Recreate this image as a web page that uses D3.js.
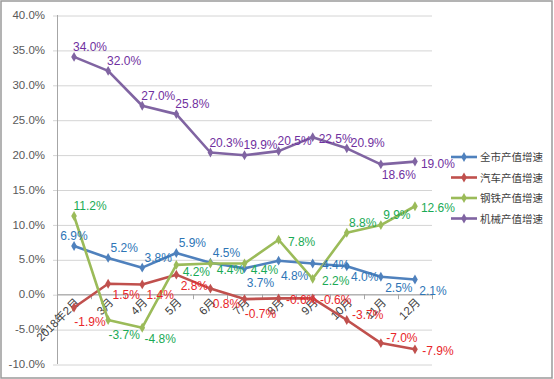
<!DOCTYPE html>
<html>
<head>
<meta charset="utf-8">
<script src="https://cdn.jsdelivr.net/npm/d3@7/dist/d3.min.js"></script>
<style>
  body { margin: 0; background: #fff; }
  text { font-family: "Liberation Sans", "Noto Sans CJK SC", sans-serif; }
</style>
</head>
<body>
<script>
// months on the category axis
var months = ["2018年2月", "3月", "4月", "5月", "6月", "7月", "8月", "9月", "10月", "11月", "12月"];
var yTicks = [-10, -5, 0, 5, 10, 15, 20, 25, 30, 35, 40];

// growth rates in percent
var cityGrowth = [6.9, 5.2, 3.8, 5.9, 4.5, 3.7, 4.8, 4.4, 4.0, 2.5, 2.1];
var autoGrowth = [-1.9, 1.5, 1.4, 2.8, 0.8, -0.7, -0.6, -0.6, -3.7, -7.0, -7.9];
var steelGrowth = [11.2, -3.7, -4.8, 4.2, 4.4, 4.4, 7.8, 2.2, 8.8, 9.9, 12.6];
var machGrowth = [34.0, 32.0, 27.0, 25.8, 20.3, 19.9, 20.5, 22.5, 20.9, 18.6, 19.0];

var seriesNames = ["全市产值增速", "汽车产值增速", "钢铁产值增速", "机械产值增速"];

// where each data label sits relative to its point (the excel labels were dragged around)
var labelSpots = {
  t: [0, -10], tr: [16, -10], r: [23, 2], rd: [20, 7], ru: [21, -5], br: [18, 11], b: [16, 15]
};
var cityLabelAt = ["t", "tr", "tr", "tr", "tr", "b", "b", "r", "br", "br", "br"];
var autoLabelAt = ["b", "br", "br", "br", "b", "b", "r", "r", "ru", "ru", "r"];
var steelLabelAt = ["tr", "b", "br", "rd", "rd", "rd", "r", "r", "tr", "tr", "r"];
var machLabelAt = ["tr", "tr", "tr", "tr", "tr", "tr", "tr", "r", "ru", "br", "r"];

var W = 554, H = 379;
var svg = d3.select("body").append("svg").attr("width", W).attr("height", H);

// outer chart border
svg.append("rect")
   .attr("x", 1).attr("y", 1).attr("width", 551).attr("height", 377)
   .attr("fill", "#fff").attr("stroke", "#9a9a9a").attr("stroke-width", 1.5);

var x = d3.scalePoint().domain(months).range([57, 432]).padding(0.5);
var y = d3.scaleLinear().domain([-10, 40]).range([364, 15]);

// horizontal gridlines + y labels
var yAxis = d3.axisLeft(y).tickValues(yTicks).tickSize(-(432 - 53)).tickPadding(8)
              .tickFormat(function(d) { return d.toFixed(1) + "%"; });
var gy = svg.append("g").attr("transform", "translate(53,0)").call(yAxis);
gy.select(".domain").remove();
gy.selectAll(".tick line").attr("stroke", "#d4d4d4").attr("transform", "translate(0,0.5)");
gy.selectAll(".tick text").attr("fill", "#595959").style("font-size", "11.5px");

// y axis line
svg.append("line").attr("x1", 57.5).attr("x2", 57.5).attr("y1", y(40)).attr("y2", y(-10))
   .attr("stroke", "#a6a6a6");

// x axis at zero with ticks between categories
var step = x.step();
var bounds = d3.range(months.length + 1).map(function(i) { return 57 + i * step; });
svg.append("line").attr("x1", 57).attr("x2", 432).attr("y1", y(0) + 0.5).attr("y2", y(0) + 0.5)
   .attr("stroke", "#a6a6a6");
svg.selectAll(".xtick").data(bounds).enter().append("line")
   .attr("x1", function(d) { return Math.round(d) + 0.5; })
   .attr("x2", function(d) { return Math.round(d) + 0.5; })
   .attr("y1", y(0)).attr("y2", y(0) + 5)
   .attr("stroke", "#a6a6a6");

svg.selectAll(".xlab").data(months).enter().append("text")
   .attr("text-anchor", "end")
   .attr("transform", function(d) { return "translate(" + (x(d) + 6) + "," + (y(0) + 9) + ") rotate(-45)"; })
   .attr("fill", "#404040")
   .style("font-size", "11.5px")
   .text(function(d) { return d; });

var series = [
  { name: seriesNames[0], values: cityGrowth, line: "#4f81bd", label: "#2e75b6", spots: cityLabelAt },
  { name: seriesNames[1], values: autoGrowth, line: "#c0504d", label: "#e8262a", spots: autoLabelAt },
  { name: seriesNames[2], values: steelGrowth, line: "#9bbb59", label: "#1aaa55", spots: steelLabelAt },
  { name: seriesNames[3], values: machGrowth, line: "#8064a2", label: "#7030a0", spots: machLabelAt }
];

var line = d3.line()
  .x(function(d, i) { return x(months[i]); })
  .y(function(d) { return y(d); });
var diamond = d3.symbol().type(d3.symbolDiamond).size(28);

series.forEach(function(s) {
  var g = svg.append("g");
  g.append("path").attr("d", line(s.values))
   .attr("fill", "none").attr("stroke", s.line).attr("stroke-width", 2.6)
   .attr("stroke-linejoin", "round");
  g.selectAll("path.mk").data(s.values).enter().append("path")
   .attr("class", "mk")
   .attr("d", diamond)
   .attr("transform", function(d, i) { return "translate(" + x(months[i]) + "," + y(d) + ")"; })
   .attr("fill", s.line);
});

// data labels drawn on top of all lines
series.forEach(function(s) {
  svg.append("g").selectAll("text").data(s.values).enter().append("text")
     .attr("x", function(d, i) { return x(months[i]) + labelSpots[s.spots[i]][0]; })
     .attr("y", function(d, i) { return y(d) + labelSpots[s.spots[i]][1] + 4; })
     .attr("text-anchor", "middle")
     .attr("fill", s.label)
     .style("font-size", "12px")
     .text(function(d) { return d.toFixed(1) + "%"; });
});

// legend
var lg = svg.append("g").selectAll("g").data(series).enter().append("g")
  .attr("transform", function(d, i) { return "translate(451," + (157 + i * 20.5) + ")"; });
lg.append("line").attr("x1", 0).attr("x2", 26).attr("y1", 0).attr("y2", 0)
  .attr("stroke", function(d) { return d.line; }).attr("stroke-width", 2.6);
lg.append("path").attr("d", diamond).attr("transform", "translate(13,0)")
  .attr("fill", function(d) { return d.line; });
lg.append("text").attr("x", 29).attr("y", 4)
  .attr("fill", "#404040").style("font-size", "10.5px")
  .style("font-family", "'Noto Sans CJK SC', sans-serif")
  .text(function(d) { return d.name; });
</script>
</body>
</html>
